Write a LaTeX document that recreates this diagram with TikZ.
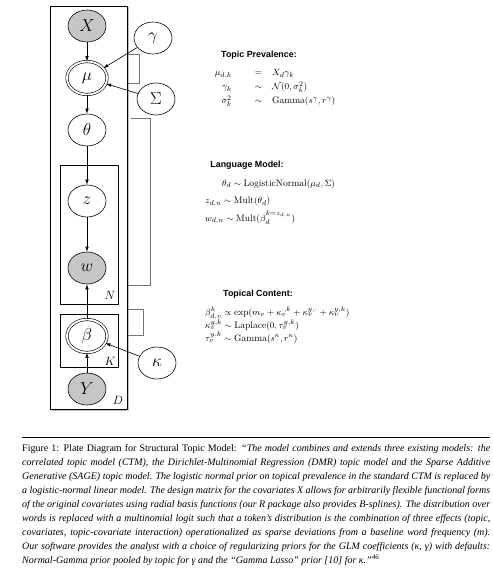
\documentclass[tikz,border=0pt]{standalone}
\usepackage{fontspec}
\usepackage{amsmath}
\newfontfamily\capfont{Liberation Serif}
\newfontfamily\hfont{Liberation Sans}
\usetikzlibrary{shapes.geometric,arrows.meta,shadows}
\begin{document}
\begin{tikzpicture}[x=1pt,y=-1pt,
  var/.style={ellipse,draw,line width=0.6pt,minimum width=38pt,minimum height=32pt,inner sep=0pt,font=\fontsize{17}{17}\selectfont},
  obs/.style={var,fill=gray!45},
  dvar/.style={var,double,double distance=1.8pt,minimum width=40pt,minimum height=33pt},
  edge/.style={-{Latex[length=5pt,width=3.5pt]},line width=0.6pt},
  plate/.style={draw,line width=0.6pt},
  bracket/.style={draw=black!55,line width=0.8pt},
  platelab/.style={font=\fontsize{13}{13}\selectfont,inner sep=0pt},
  ttl/.style={font=\hfont\bfseries\fontsize{8.9}{10}\selectfont,inner sep=0pt},
  eq/.style={font=\fontsize{9.5}{11}\selectfont,inner sep=0pt}]
\useasboundingbox (0,0) rectangle (492,577);
\fill[white] (0,0) rectangle (492,577);
% plates
\draw[fill=white,line width=0.9pt,drop shadow={shadow xshift=1.5pt,shadow yshift=-1.5pt,opacity=0.5}] (50,6) rectangle (127,409);
\draw[plate] (60,165) rectangle (118,304);
\draw[plate] (60,314) rectangle (118,367);
% nodes
\node[obs] (X) at (87,26) {$X$};
\node[dvar] (mu) at (87,78) {$\mu$};
\node[var] (gamma) at (153,38) {$\gamma$};
\node[var] (Sigma) at (156,99) {$\Sigma$};
\node[var] (theta) at (87,130) {$\theta$};
\node[var] (z) at (87,201) {$z$};
\node[obs] (w) at (87,268) {$w$};
\node[dvar] (beta) at (87,336) {$\beta$};
\node[var] (kappa) at (157,363) {$\kappa$};
\node[obs] (Y) at (87,389) {$Y$};
\node[platelab] (N) at (110,295) {$N$};
\node[platelab] (K) at (110,361) {$K$};
\node[platelab] (D) at (118,400) {$D$};
% edges
\draw[edge] (X) -- (mu);
\draw[edge] (mu) -- (theta);
\draw[edge] (theta) -- (z);
\draw[edge] (z) -- (w);
\draw[edge] (beta) -- (w);
\draw[edge] (Y) -- (beta);
\draw[edge] (gamma) -- (mu);
\draw[edge] (Sigma) -- (mu);
\draw[edge] (kappa) -- (beta);
% brackets
\draw[bracket] (128,54) -- (139,54) -- (139,83) -- (128,83);
\draw[bracket] (131,118) -- (150,118) -- (150,285) -- (128,285);
\draw[bracket] (128,309) -- (143,309) -- (143,335) -- (128,335);
% Topic prevalence
\node[ttl] (tp) at (259,55) {Topic Prevalence:};
\node[eq,anchor=base east] (tp1l) at (232,76) {$\mu_{d,k}$};
\node[eq,anchor=base] (tp1r) at (258.5,76) {$=$};
\node[eq,anchor=base west] (tp1x) at (272,76) {$X_d\gamma_k$};
\node[eq,anchor=base east] (tp2l) at (232,90) {$\gamma_k$};
\node[eq,anchor=base] (tp2r) at (258.5,90) {$\sim$};
\node[eq,anchor=base west] (tp2x) at (272,90) {$\mathcal{N}(0,\sigma_k^2)$};
\node[eq,anchor=base east] (tp3l) at (232,104) {$\sigma_k^2$};
\node[eq,anchor=base] (tp3r) at (258.5,104) {$\sim$};
\node[eq,anchor=base west] (tp3x) at (272,104) {$\mathrm{Gamma}(s^\gamma,r^\gamma)$};
% Language model
\node[ttl] (lm) at (247,165) {Language Model:};
\node[eq,anchor=base west] (lm1) at (222,186) {$\theta_d\sim\mathrm{LogisticNormal}(\mu_d,\Sigma)$};
\node[eq,anchor=base west] (lm2) at (205,204) {$z_{d,n}\sim\mathrm{Mult}(\theta_d)$};
\node[eq,anchor=base west] (lm3) at (205,221) {$w_{d,n}\sim\mathrm{Mult}(\beta_d^{k=z_{d,n}})$};
% Topical content
\node[ttl] (tc) at (258,294) {Topical Content:};
\node[eq,anchor=base west] (tc1) at (205,315.5) {$\beta^k_{d,v}\propto\exp(m_v+\kappa_v^{\cdot,k}+\kappa_v^{y,\cdot}+\kappa_v^{y,k})$};
\node[eq,anchor=base west] (tc2) at (205,328.5) {$\kappa_v^{y,k}\sim\mathrm{Laplace}(0,\tau_v^{y,k})$};
\node[eq,anchor=base west] (tc3) at (205,341) {$\tau_v^{y,k}\sim\mathrm{Gamma}(s^\kappa,r^\kappa)$};
% caption
\draw[line width=0.8pt] (22,437.5) -- (490,437.5);
\node[anchor=north west,inner sep=0pt,text width=468pt,align=justify,
  font=\capfont\fontsize{10}{14}\selectfont] (cap) at (22,444) {\hyphenpenalty=10000\exhyphenpenalty=10000\tolerance=9999
Figure 1: Plate Diagram for Structural Topic Model: \textit{“The model combines and extends three existing models: the\linebreak correlated topic model (CTM), the Dirichlet-Multinomial Regression (DMR) topic model and the Sparse Additive\linebreak Generative (SAGE) topic model. The logistic normal prior on topical prevalence in the standard CTM is replaced by\linebreak a logistic-normal linear model. The design matrix for the covariates X allows for arbitrarily flexible functional forms\linebreak of the original covariates using radial basis functions (our R package also provides B-splines). The distribution over\linebreak words is replaced with a multinomial logit such that a token’s distribution is the combination of three effects (topic,\linebreak covariates, topic-covariate interaction) operationalized as sparse deviations from a baseline word frequency (m).\linebreak Our software provides the analyst with a choice of regularizing priors for the GLM coefficients (κ, γ) with defaults:\linebreak Normal-Gamma prior pooled by topic for γ and the “Gamma Lasso” prior [10] for κ.”}\textsuperscript{46}};
\end{tikzpicture}
\end{document}
